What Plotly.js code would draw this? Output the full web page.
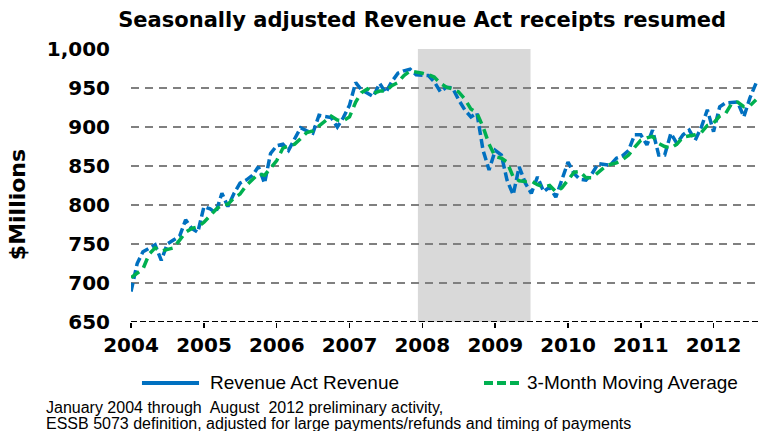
<!DOCTYPE html>
<html>
<head>
<meta charset="utf-8">
<script src="https://cdn.plot.ly/plotly-3.0.1.min.js"></script>
<style>html,body{margin:0;padding:0;background:#fff;}#chart{width:758px;height:431px;}</style>
</head>
<body>
<div id="chart"></div>
<script>
// ---- data ----
const startYear = 2004, startMonth = 1;
const seriesNames = ["Revenue Act Revenue", "3-Month Moving Average"];
const yearLabels = ["2004","2005","2006","2007","2008","2009","2010","2011","2012"];
const recessionStart = "2007-12-10";
const recessionEnd = "2009-06-27";
const titleText = "Seasonally adjusted Revenue Act receipts resumed";
const yTitleText = "$Millions";
const footnoteLines = [
  "January 2004 through  August  2012 preliminary activity,",
  "ESSB 5073 definition, adjusted for large payments/refunds and timing of payments"
];
const revenue = [
  689, 725, 740, 745, 749, 729, 750, 755, 760, 781, 770, 765,
  798, 795, 790, 815, 798, 815, 828, 832, 838, 849, 828, 866,
  876, 878, 870, 885, 899, 895, 892, 915, 914, 912, 900, 912,
  928, 957, 948, 943, 939, 956, 944, 958, 969, 972, 974, 967,
  967, 966, 958, 945, 951, 950, 935, 922, 913, 918, 870, 845,
  870, 864, 832, 813, 849, 828, 815, 836, 817, 823, 810, 832,
  855, 840, 833, 832, 840, 853, 852, 851, 860, 863, 870, 890,
  890, 877, 896, 864, 864, 892, 879, 890, 896, 883, 900, 922,
  894, 926, 931, 932, 932, 913, 937, 956
];
const movingAvg = [
  707, 712, 718, 737, 745, 741, 743, 745, 755, 765, 770, 772,
  778, 786, 794, 800, 801, 809, 814, 825, 833, 840, 838, 848,
  857, 873, 875, 878, 885, 893, 895, 901, 907, 914, 909, 908,
  913, 932, 944, 949, 943, 946, 946, 953, 957, 966, 972, 971,
  969, 967, 964, 956, 951, 949, 945, 936, 923, 918, 900, 878,
  862, 860, 855, 836, 831, 830, 831, 826, 823, 825, 817, 822,
  832, 842, 843, 835, 835, 842, 848, 852, 854, 858, 864, 874,
  883, 886, 888, 879, 875, 873, 878, 887, 888, 890, 893, 902,
  905, 914, 917, 930, 932, 926, 927, 935
];

// month dates for the x axis
const months = revenue.map((_, i) => {
  const y = startYear + Math.floor((startMonth - 1 + i) / 12);
  const m = ((startMonth - 1 + i) % 12) + 1;
  return y + "-" + String(m).padStart(2, "0") + "-01";
});
const yearTicks = yearLabels.map(y => y + "-01-01");

// ---- styling ----
const BLUE = "#0070C0", GREEN = "#00B050";
const boldFont = {family: "DejaVu Sans, Verdana, sans-serif", size: 20, color: "#000", weight: 700};
const textFont = {family: "Liberation Sans, Arial, sans-serif", size: 19, color: "#000"};
const noteFont = {family: "Liberation Sans, Arial, sans-serif", size: 16, color: "#000"};

const traces = [
  {x: months, y: revenue, type: "scatter", mode: "lines", name: seriesNames[0], showlegend: false,
   line: {color: BLUE, width: 3.5, dash: "9px,4px"}},
  {x: months, y: movingAvg, type: "scatter", mode: "lines", name: seriesNames[1], showlegend: false,
   line: {color: GREEN, width: 3.5, dash: "10px,6px"}}
];

const legY = -0.2234;
const layout = {
  width: 758, height: 431,
  margin: {l: 131, r: 0, t: 49, b: 109},
  paper_bgcolor: "#fff", plot_bgcolor: "#fff",
  showlegend: false,
  title: {text: titleText, font: {family: "DejaVu Sans, Verdana, sans-serif", size: 21, weight: 700, color: "#000"},
          xref: "container", yref: "container", x: 0.557, xanchor: "center", y: 0.955, yanchor: "middle"},
  xaxis: {type: "date", range: ["2004-01-01", "2012-08-11"], tickmode: "array", tickvals: yearTicks, ticktext: yearLabels,
          showgrid: false, zeroline: false, showline: false, ticks: "outside", ticklen: 5, tickwidth: 1.5, tickcolor: "#000",
          tickfont: boldFont, fixedrange: true},
  yaxis: {range: [650, 1000], dtick: 50, tick0: 650, tickformat: ",", showgrid: true, gridcolor: "#808080", gridwidth: 2,
          griddash: "8px,6px", zeroline: false, showline: false, ticks: "", ticklabelstandoff: 20, tickfont: boldFont, fixedrange: true},
  shapes: [
    {type: "rect", xref: "x", yref: "paper", x0: recessionStart, x1: recessionEnd, y0: 0, y1: 1,
     fillcolor: "#d9d9d9", line: {width: 0}, layer: "below"},
    {type: "line", xref: "paper", yref: "y", x0: 0, x1: 1, y0: 650, y1: 650,
     line: {color: "#000", width: 2, dash: "6px,3px"}},
    {type: "line", xref: "paper", yref: "paper", x0: 0.0175, x1: 0.1085, y0: legY, y1: legY,
     line: {color: BLUE, width: 4}},
    {type: "line", xref: "paper", yref: "paper", x0: 0.563, x1: 0.6188, y0: legY, y1: legY,
     line: {color: GREEN, width: 4, dash: "9px,4px"}}
  ],
  annotations: [
    {text: seriesNames[0], xref: "paper", yref: "paper", x: 0.1228, y: legY, xanchor: "left", yanchor: "middle",
     showarrow: false, font: textFont},
    {text: seriesNames[1], xref: "paper", yref: "paper", x: 0.6284, y: legY, xanchor: "left", yanchor: "middle",
     showarrow: false, font: textFont},
    {text: yTitleText, xref: "paper", yref: "paper", x: -0.180, y: 0.4286, xanchor: "center", yanchor: "middle",
     textangle: -90, showarrow: false, font: Object.assign({}, boldFont, {size: 22})},
    {text: footnoteLines[0], xref: "paper", yref: "paper", x: -0.1388, y: -0.312, xanchor: "left", yanchor: "middle",
     showarrow: false, font: noteFont},
    {text: footnoteLines[1], xref: "paper", yref: "paper", x: -0.1388, y: -0.372, xanchor: "left", yanchor: "middle",
     showarrow: false, font: noteFont}
  ]
};

Plotly.newPlot("chart", traces, layout, {staticPlot: true, displayModeBar: false});
</script>
</body>
</html>
